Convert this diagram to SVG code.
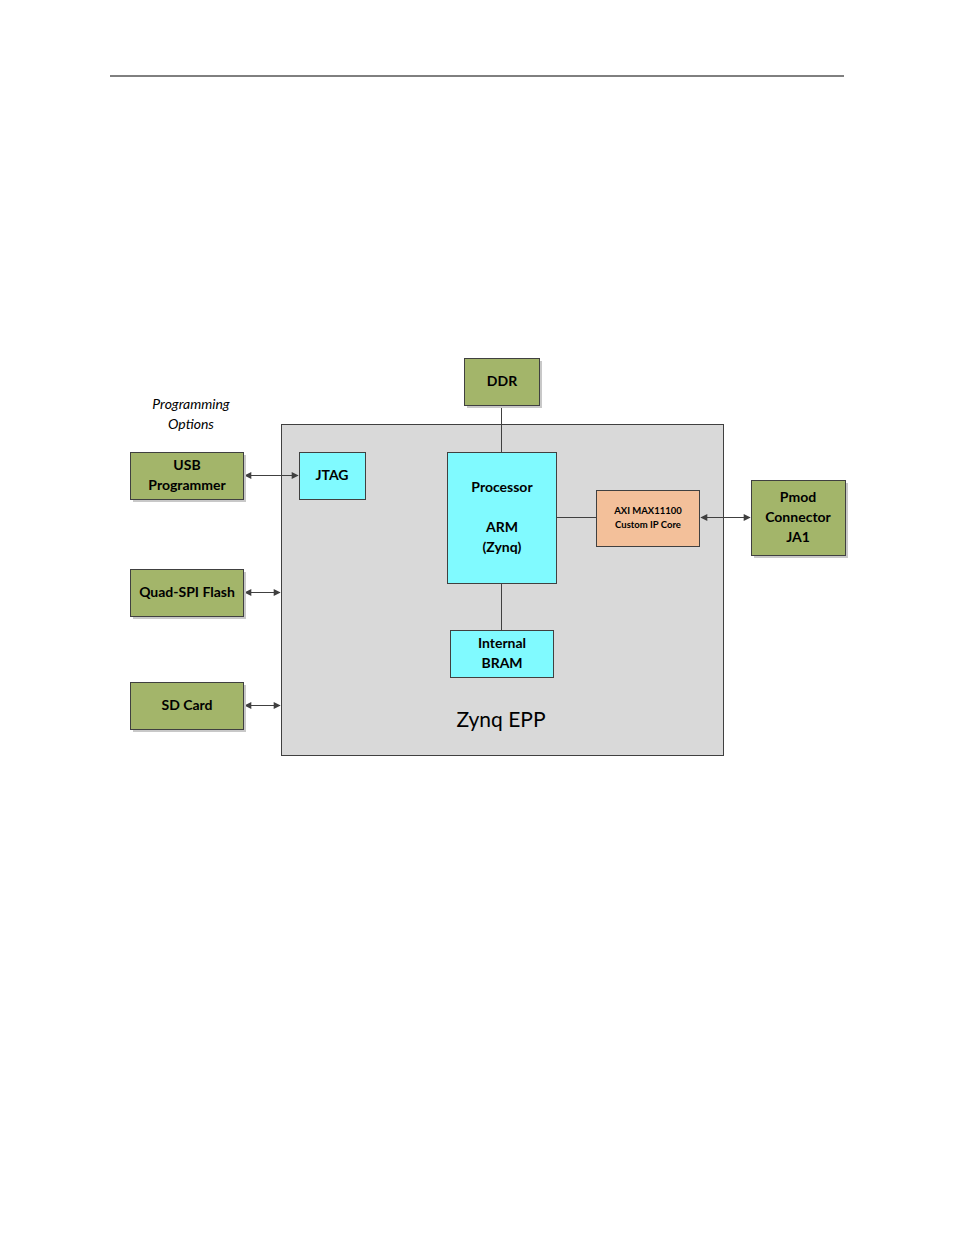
<svg xmlns="http://www.w3.org/2000/svg" width="954" height="1235" viewBox="0 0 954 1235">
<style>
.g{fill:#a3b56a;stroke:#404040;stroke-width:1}
.c{fill:#80faff;stroke:#404040;stroke-width:1}
.o{fill:#f3c09a;stroke:#404040;stroke-width:1}
.t{font-family:Lato,"Open Sans",sans-serif;font-weight:bold;font-size:14px;fill:#000;text-anchor:middle}
.s{font-family:Lato,"Open Sans",sans-serif;font-weight:bold;font-size:9.5px;fill:#000;text-anchor:middle}
.l{stroke:#404040;stroke-width:1;fill:none}
.sh{fill:#c8c8c8}
</style>
<defs>
<marker id="a" viewBox="0 0 10 10" refX="9" refY="5" markerWidth="10" markerHeight="7" markerUnits="userSpaceOnUse" orient="auto-start-reverse"><path d="M0,0L10,5L0,10z" fill="#404040"/></marker>
</defs>
<rect width="954" height="1235" fill="#fff"/>
<line x1="110" y1="76" x2="844" y2="76" stroke="#000" stroke-width="1"/>
<g id="zynq"><rect x="281.5" y="424.5" width="442" height="331" fill="#d9d9d9" stroke="#404040"/>
<text x="501" y="727" font-family="Lato,'Open Sans',sans-serif" font-size="21" text-anchor="middle">Zynq EPP</text></g>
<text x="191" y="409" font-family="Lato,'Open Sans',sans-serif" font-style="italic" font-size="14" text-anchor="middle">Programming</text>
<text x="191" y="429" font-family="Lato,'Open Sans',sans-serif" font-style="italic" font-size="14" text-anchor="middle">Options</text>
<g id="connectors">
<line class="l" x1="501.5" y1="405" x2="501.5" y2="453"/>
<line class="l" x1="501.5" y1="583" x2="501.5" y2="631"/>
<line class="l" x1="556" y1="517.5" x2="597" y2="517.5"/>
<line class="l" x1="245" y1="475.5" x2="298" y2="475.5" marker-start="url(#a)" marker-end="url(#a)"/>
<line class="l" x1="245" y1="592.5" x2="280" y2="592.5" stroke-width="2" marker-start="url(#a)" marker-end="url(#a)"/>
<line class="l" x1="245" y1="705.5" x2="280" y2="705.5" marker-start="url(#a)" marker-end="url(#a)"/>
<line class="l" x1="701" y1="517.5" x2="750" y2="517.5" marker-start="url(#a)" marker-end="url(#a)"/>
</g>
<g id="ddr"><rect class="sh" x="467" y="361" width="75" height="47"/><rect class="g" x="464.5" y="358.5" width="75" height="47"/><text class="t" x="502" y="386">DDR</text></g>
<g id="usb"><rect class="sh" x="133" y="455" width="113" height="47"/><rect class="g" x="130.5" y="452.5" width="113" height="47"/><text class="t" x="187" y="470">USB</text><text class="t" x="187" y="490">Programmer</text></g>
<g id="qspi"><rect class="sh" x="133" y="572" width="113" height="47"/><rect class="g" x="130.5" y="569.5" width="113" height="47"/><text class="t" x="187" y="597">Quad-SPI Flash</text></g>
<g id="sd"><rect class="sh" x="133" y="685" width="113" height="47"/><rect class="g" x="130.5" y="682.5" width="113" height="47"/><text class="t" x="187" y="710">SD Card</text></g>
<g id="jtag"><rect class="c" x="299.5" y="452.5" width="66" height="47"/><text class="t" x="332" y="480">JTAG</text></g>
<g id="proc"><rect class="c" x="447.5" y="452.5" width="109" height="131"/><text class="t" x="502" y="492">Processor</text><text class="t" x="502" y="532">ARM</text><text class="t" x="502" y="552">(Zynq)</text></g>
<g id="bram"><rect class="c" x="450.5" y="630.5" width="103" height="47"/><text class="t" x="502" y="648">Internal</text><text class="t" x="502" y="668">BRAM</text></g>
<g id="axi"><rect class="o" x="596.5" y="490.5" width="103" height="56"/><text class="s" x="648" y="514">AXI MAX11100</text><text class="s" x="648" y="528">Custom IP Core</text></g>
<g id="pmod"><rect class="sh" x="754" y="483" width="94" height="75"/><rect class="g" x="751.5" y="480.5" width="94" height="75"/><text class="t" x="798" y="502">Pmod</text><text class="t" x="798" y="522">Connector</text><text class="t" x="798" y="542">JA1</text></g>
</svg>
